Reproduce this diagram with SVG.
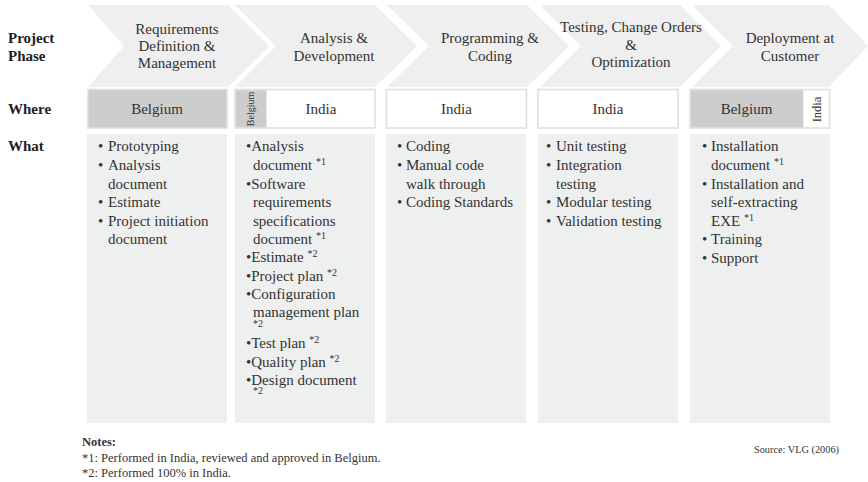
<svg xmlns="http://www.w3.org/2000/svg" width="868" height="482" viewBox="0 0 868 482">
  <style>
    text { font-family: "Liberation Serif", "Times New Roman", serif; fill: #333; }
    .lbl { font-size: 15px; font-weight: bold; fill: #222; }
    .ph { font-size: 15px; text-anchor: middle; }
    .chev { fill: #efefef; }
    .box { stroke: #dedede; stroke-width: 1.5; }
    .white { fill: #ffffff; }
    .grey { fill: #cdcdcd; }
    .loc { font-size: 15px; text-anchor: middle; }
    .what { fill: #eef0ef; }
    .it { font-size: 15px; }
    .sup { font-size: 10px; }
    .note { font-size: 12.5px; }
    .src { font-size: 10.3px; text-anchor: end; }
  </style>

  <!-- row labels -->
  <g id="row-labels">
    <text class="lbl" x="8" y="43">Project</text>
    <text class="lbl" x="8" y="61">Phase</text>
    <text class="lbl" x="8" y="114">Where</text>
    <text class="lbl" x="8" y="151">What</text>
  </g>

  <!-- phase chevrons -->
  <g id="phase-1">
    <path class="chev" d="M88,5 L228,5 L269,46 L228,87 L88,87 L124,46 Z"/>
    <text class="ph" x="177" y="34">Requirements</text>
    <text class="ph" x="177" y="51">Definition &amp;</text>
    <text class="ph" x="177" y="68">Management</text>
  </g>
  <g id="phase-2">
    <path class="chev" d="M235,5 L375,5 L417,46 L375,87 L235,87 L276,46 Z"/>
    <text class="ph" x="334" y="43">Analysis &amp;</text>
    <text class="ph" x="334" y="61">Development</text>
  </g>
  <g id="phase-3">
    <path class="chev" d="M387,5 L527,5 L569,46 L527,87 L387,87 L429,46 Z"/>
    <text class="ph" x="490" y="43">Programming &amp;</text>
    <text class="ph" x="490" y="61">Coding</text>
  </g>
  <g id="phase-4">
    <path class="chev" d="M540,5 L680,5 L721,46 L680,87 L540,87 L581,46 Z"/>
    <text class="ph" x="631" y="32">Testing, Change Orders</text>
    <text class="ph" x="631" y="50">&amp;</text>
    <text class="ph" x="631" y="67">Optimization</text>
  </g>
  <g id="phase-5">
    <path class="chev" d="M692,5 L829,5 L868,46 L829,87 L692,87 L733,46 Z"/>
    <text class="ph" x="790" y="43">Deployment at</text>
    <text class="ph" x="790" y="61">Customer</text>
  </g>

  <!-- where row -->
  <g id="where-1">
    <rect class="box grey" x="88" y="89.5" width="139" height="38.5"/>
    <text class="loc" x="157" y="114">Belgium</text>
  </g>
  <g id="where-2">
    <rect class="box white" x="235" y="89.5" width="140" height="38.5"/>
    <rect class="grey" x="236" y="90.3" width="30.5" height="37"/>
    <text x="0" y="0" font-size="10" text-anchor="middle" transform="translate(254,109) rotate(-90)">Belgium</text>
    <text class="loc" x="321" y="114">India</text>
  </g>
  <g id="where-3">
    <rect class="box white" x="386.5" y="89.5" width="140" height="38.5"/>
    <text class="loc" x="456.5" y="114">India</text>
  </g>
  <g id="where-4">
    <rect class="box white" x="538" y="89.5" width="140" height="38.5"/>
    <text class="loc" x="608" y="114">India</text>
  </g>
  <g id="where-5">
    <rect class="box white" x="690" y="89.5" width="139.5" height="38.5"/>
    <rect class="grey" x="690.8" y="90.3" width="112.5" height="37"/>
    <text class="loc" x="746.5" y="114">Belgium</text>
    <text x="0" y="0" font-size="12.5" text-anchor="middle" transform="translate(820.5,109.5) rotate(-90)">India</text>
  </g>

  <!-- what row -->
  <g id="what-1">
    <rect class="what" x="87" y="134" width="140" height="289"/>
    <g class="it">
      <text x="98" y="151">•</text><text x="108" y="151">Prototyping</text>
      <text x="98" y="170">•</text><text x="108" y="170">Analysis</text>
      <text x="108" y="188.6">document</text>
      <text x="98" y="207.2">•</text><text x="108" y="207.2">Estimate</text>
      <text x="98" y="225.8">•</text><text x="108" y="225.8">Project initiation</text>
      <text x="108" y="244.4">document</text>
    </g>
  </g>
  <g id="what-2">
    <rect class="what" x="235" y="134" width="140" height="289"/>
    <g class="it">
      <text x="246" y="151">•Analysis</text>
      <text x="253" y="170">document <tspan class="sup" dy="-5">*1</tspan></text>
      <text x="246" y="188.6">•Software</text>
      <text x="253" y="207.2">requirements</text>
      <text x="253" y="225.8">specifications</text>
      <text x="253" y="244.4">document <tspan class="sup" dy="-5">*1</tspan></text>
      <text x="246" y="262.4">•Estimate <tspan class="sup" dy="-5">*2</tspan></text>
      <text x="246" y="280.6">•Project plan <tspan class="sup" dy="-5">*2</tspan></text>
      <text x="246" y="299">•Configuration</text>
      <text x="253" y="317">management plan</text>
      <text class="sup" x="253" y="327">*2</text>
      <text x="246" y="348">•Test plan <tspan class="sup" dy="-5">*2</tspan></text>
      <text x="246" y="366.5">•Quality plan <tspan class="sup" dy="-5">*2</tspan></text>
      <text x="246" y="385">•Design document</text>
      <text class="sup" x="253" y="394">*2</text>
    </g>
  </g>
  <g id="what-3">
    <rect class="what" x="386" y="134" width="140" height="289"/>
    <g class="it">
      <text x="397" y="151">•</text><text x="406" y="151">Coding</text>
      <text x="397" y="170">•</text><text x="406" y="170">Manual code</text>
      <text x="406" y="188.6">walk through</text>
      <text x="397" y="207.2">•</text><text x="406" y="207.2">Coding Standards</text>
    </g>
  </g>
  <g id="what-4">
    <rect class="what" x="538" y="134" width="140" height="289"/>
    <g class="it">
      <text x="546" y="151">•</text><text x="556" y="151">Unit testing</text>
      <text x="546" y="170">•</text><text x="556" y="170">Integration</text>
      <text x="556" y="188.6">testing</text>
      <text x="546" y="207.2">•</text><text x="556" y="207.2">Modular testing</text>
      <text x="546" y="225.8">•</text><text x="556" y="225.8">Validation testing</text>
    </g>
  </g>
  <g id="what-5">
    <rect class="what" x="690" y="134" width="140" height="289"/>
    <g class="it">
      <text x="702" y="151">•</text><text x="711" y="151">Installation</text>
      <text x="711" y="170">document <tspan class="sup" dy="-5">*1</tspan></text>
      <text x="702" y="188.6">•</text><text x="711" y="188.6">Installation and</text>
      <text x="711" y="207.2">self-extracting</text>
      <text x="711" y="225.8">EXE <tspan class="sup" dy="-5">*1</tspan></text>
      <text x="702" y="244">•</text><text x="711" y="244">Training</text>
      <text x="702" y="262.6">•</text><text x="711" y="262.6">Support</text>
    </g>
  </g>

  <!-- notes and source -->
  <g id="notes">
    <text class="note" x="82" y="446" font-weight="bold" fill="#222">Notes:</text>
    <text class="note" x="82" y="462">*1: Performed in India, reviewed and approved in Belgium.</text>
    <text class="note" x="82" y="477">*2: Performed 100% in India.</text>
  </g>
  <g id="source">
    <text class="src" x="839" y="453">Source: VLG (2006)</text>
  </g>
</svg>
